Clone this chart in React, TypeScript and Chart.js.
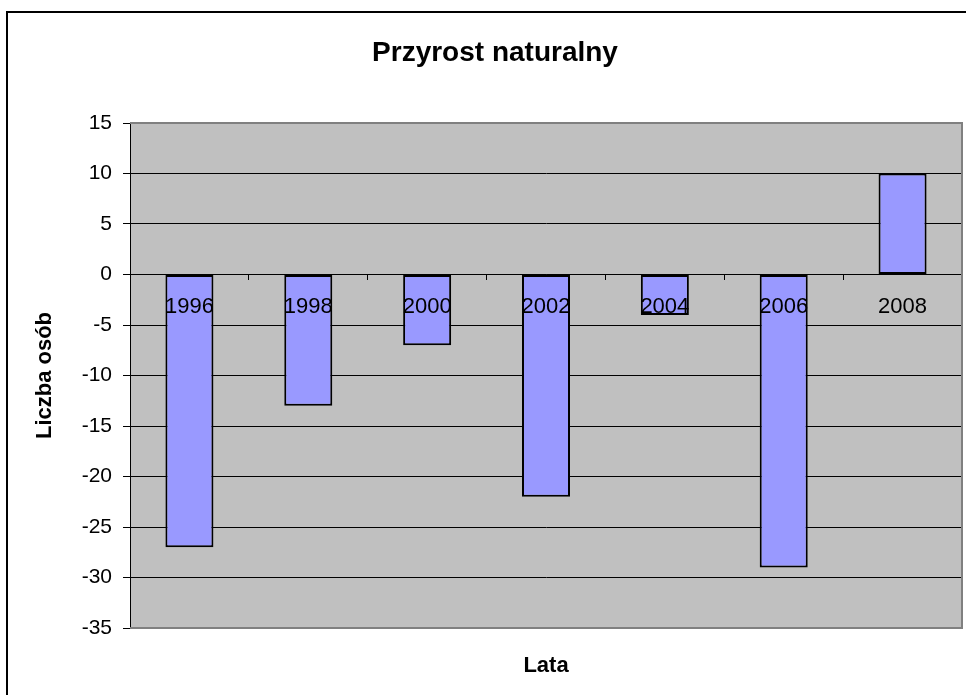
import React, { useEffect, useRef } from "react";
import { Chart, registerables } from "chart.js";

Chart.register(...registerables);

const categories: string[] = ["1996", "1998", "2000", "2002", "2004", "2006", "2008"];
const values: number[] = [-27, -13, -7, -22, -4, -29, 10];
const yMin = -35;
const yMax = 15;
const yStep = 5;
const chartTitle = "Przyrost naturalny";
const yAxisTitle = "Liczba osób";
const xAxisTitle = "Lata";

const FONT = '"Liberation Sans", Arial, sans-serif';

const decorPlugin = {
  id: "decor",
  beforeDraw(chart: any) {
    const { ctx, chartArea: a, width, height } = chart;
    ctx.save();
    ctx.fillStyle = "#ffffff";
    ctx.fillRect(0, 0, width, height);
    ctx.fillStyle = "#c0c0c0";
    ctx.fillRect(a.left, a.top, a.right - a.left, a.bottom - a.top);
    ctx.restore();
  },
  afterDraw(chart: any) {
    const { ctx, chartArea: a, width, height } = chart;
    ctx.save();
    // plot area border (top, right, bottom)
    ctx.strokeStyle = "#808080";
    ctx.lineWidth = 2;
    ctx.beginPath();
    ctx.moveTo(a.left, a.top);
    ctx.lineTo(a.right, a.top);
    ctx.lineTo(a.right, a.bottom);
    ctx.lineTo(a.left, a.bottom);
    ctx.stroke();
    // outer chart border (top and left visible)
    ctx.strokeStyle = "#000000";
    ctx.lineWidth = 2;
    ctx.beginPath();
    ctx.moveTo(7, height);
    ctx.lineTo(7, 12);
    ctx.lineTo(width, 12);
    ctx.stroke();
    // titles
    ctx.fillStyle = "#000000";
    ctx.textAlign = "center";
    ctx.textBaseline = "alphabetic";
    ctx.font = `bold 28px ${FONT}`;
    ctx.fillText(chartTitle, 495, 61);
    ctx.font = `bold 22px ${FONT}`;
    ctx.fillText(xAxisTitle, (a.left + a.right) / 2, 672);
    ctx.translate(45, (a.top + a.bottom) / 2);
    ctx.rotate(-Math.PI / 2);
    ctx.textBaseline = "middle";
    ctx.font = `bold 22px ${FONT}`;
    ctx.fillText(yAxisTitle, 0, 0);
    ctx.restore();
  },
};

export default function App() {
  const canvasRef = useRef<HTMLCanvasElement | null>(null);

  useEffect(() => {
    document.body.style.margin = "0";
    const canvas = canvasRef.current;
    if (!canvas) return;
    const chart = new Chart(canvas, {
      type: "bar",
      data: {
        labels: categories,
        datasets: [
          {
            label: "Przyrost naturalny",
            data: values,
            backgroundColor: "#9999ff",
            borderColor: "#000000",
            borderWidth: 2,
            borderSkipped: false,
            categoryPercentage: 1,
            barPercentage: 0.404,
          },
        ],
      },
      options: {
        responsive: false,
        animation: false,
        devicePixelRatio: 1,
        layout: { padding: { top: 123, right: 4, bottom: 67, left: 0 } },
        plugins: {
          legend: { display: false },
          title: { display: false },
          tooltip: { enabled: false },
        },
        scales: {
          x: {
            type: "category",
            position: { y: 0 } as any,
            offset: true,
            grid: {
              offset: true,
              drawOnChartArea: false,
              drawTicks: true,
              tickLength: 5,
              color: "#000000",
              z: 1,
            },
            border: { color: "#000000", width: 1, z: 1 },
            ticks: {
              color: "#000000",
              font: { family: FONT, size: 22 },
              padding: 14,
              maxRotation: 0,
              autoSkip: false,
              z: 1,
            },
          },
          y: {
            min: yMin,
            max: yMax,
            ticks: {
              stepSize: yStep,
              color: "#000000",
              font: { family: FONT, size: 21 },
              padding: 11,
            },
            grid: {
              color: "#000000",
              lineWidth: 1,
              tickLength: 7,
              drawTicks: true,
            },
            border: { color: "#000000", width: 1 },
            afterFit(scale: any) {
              scale.width = 130;
            },
          },
        },
      },
      plugins: [decorPlugin],
    });
    return () => chart.destroy();
  }, []);

  return (
    <canvas
      ref={canvasRef}
      width={966}
      height={695}
      style={{ display: "block", width: 966, height: 695 }}
    />
  );
}
